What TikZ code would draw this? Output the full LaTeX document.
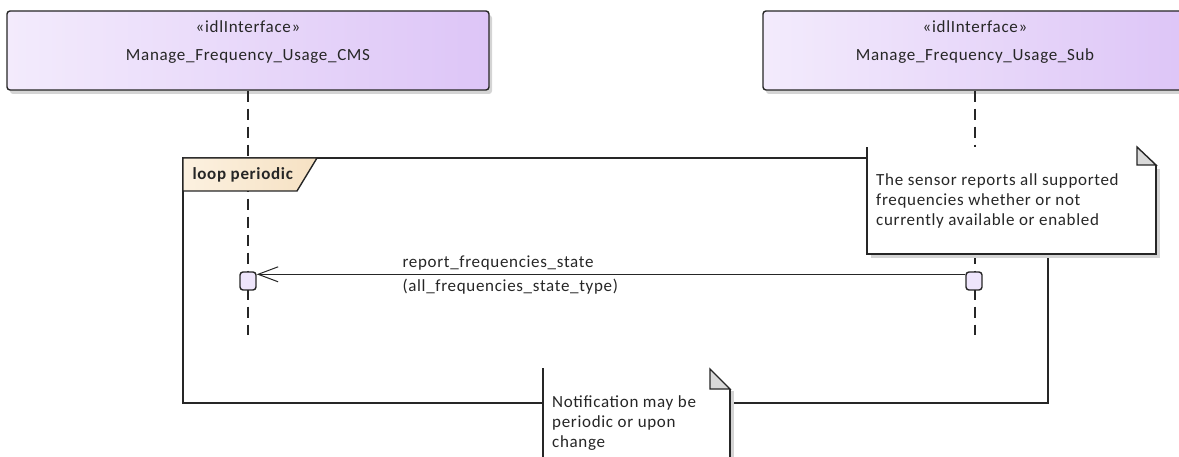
\documentclass[tikz,border=0pt]{standalone}
\usepackage{fontspec}
\setmainfont{Carlito}[LetterSpace=4]
\usetikzlibrary{positioning, calc, arrows.meta, shadows}

\definecolor{lilacL}{RGB}{243,235,252}
\definecolor{lilacR}{RGB}{221,197,247}
\definecolor{actfill}{RGB}{238,229,251}
\definecolor{tagL}{RGB}{252,241,224}
\definecolor{tagR}{RGB}{246,225,195}
\definecolor{foldgray}{RGB}{217,217,217}
\definecolor{shadowgray}{RGB}{212,212,212}

\begin{document}
\begin{tikzpicture}[x=1pt, y=-1pt,
    every node/.style={font=\fontsize{17}{20}\selectfont, text=black!85},
    iface/.style={draw=black!85, line width=1.4pt, rounded corners=3pt,
        left color=lilacL, right color=lilacR, minimum height=79pt,
        drop shadow={shadow xshift=3pt, shadow yshift=-4pt, fill=shadowgray, opacity=1}},
    lifeline/.style={dash pattern=on 11pt off 7pt, line width=1.4pt, draw=black!85},
    actbox/.style={draw=black!85, line width=1.4pt, fill=actfill, rounded corners=3pt,
        minimum width=16pt, minimum height=18pt, inner sep=0pt},
    msg/.style={-{Straight Barb[length=20pt, width=15pt]}, line width=1pt, draw=black!85},
    frameline/.style={line width=1.4pt, draw=black!85},
    notetext/.style={align=left, anchor=north west, inner sep=0pt}
]
    \useasboundingbox (0,0) rectangle (1179,457);
    %interfacce
    \node[iface, minimum width=482pt] (cms) at (248,50.5) {};
    \node[anchor=base] (cmsst) at ($(cms.north)+(0,22)$) {«idlInterface»};
    \node[anchor=base] (cmsname) at ($(cms.north)+(0,50)$) {Manage\_Frequency\_Usage\_CMS};
    \node[iface, minimum width=424pt] (sub) at (975,50.5) {};
    \node[anchor=base] (subst) at ($(sub.north)+(0,22)$) {«idlInterface»};
    \node[anchor=base] (subname) at ($(sub.north)+(0,50)$) {Manage\_Frequency\_Usage\_Sub};
    %lifelines
    \coordinate (cmsend) at (248,335);
    \coordinate (subend) at (975,335);
    \draw[lifeline] (cms.south) -- (cmsend);
    \draw[lifeline] (sub.south) -- (subend);
    %frame loop
    \coordinate (fnw) at (183,158);
    \coordinate (fse) at (1048,403);
    \draw[frameline] (fnw) rectangle (fse);
    \draw[frameline, left color=tagL, right color=tagR]
        (fnw) -- ++(134,0) -- ++(-20,33) -- ++(-114,0) -- cycle;
    \node[anchor=base west, font=\fontsize{17}{20}\selectfont\bfseries] (looptag) at (189,180) {loop periodic};
    %attivazioni
    \node[actbox] (act1) at (248,281) {};
    \node[actbox] (act2) at (974,281) {};
    %messaggio
    \draw[msg] ([yshift=-3pt]act2.north west) -- ([yshift=-3pt]act1.north east);
    \node[anchor=base west] (msgname) at (399,268) {report\_frequencies\_state};
    \node[anchor=base west] (msgarg) at (399,291) {(all\_frequencies\_state\_type)};
    %nota sensore
    \fill[shadowgray] (871,258) rectangle (1160,169);
    \fill[white] (867,147) rectangle (1156,254);
    \draw[frameline, fill=foldgray] (1137,147) -- (1137,165) -- (1156,165) -- cycle;
    \draw[frameline] (1156,165) -- (1156,254) -- (867,254) -- (867,147);
    \node[notetext] (note1) at (876,173.5) {The sensor reports all supported\\frequencies whether or not\\currently available or enabled};
    %nota notifica
    \fill[shadowgray] (547,470) rectangle (734,391);
    \fill[white] (543,368) rectangle (730,470);
    \draw[frameline, fill=foldgray] (710,369) -- (710,389) -- (730,389) -- cycle;
    \draw[frameline] (730,389) -- (730,470) (543,470) -- (543,368);
    \node[notetext] (note2) at (552,395.5) {Notification may be\\periodic or upon\\change};
\end{tikzpicture}
\end{document}
